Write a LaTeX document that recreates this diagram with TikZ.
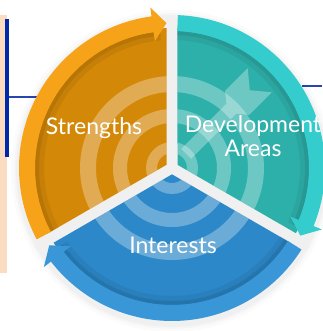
\documentclass[tikz,border=0pt]{standalone}
\usepackage{fontspec}
\setmainfont{Lato}
\definecolor{orgband}{RGB}{246,163,25}
\definecolor{orgfill}{RGB}{212,136,8}
\definecolor{tealband}{RGB}{52,204,204}
\definecolor{tealfill}{RGB}{46,176,170}
\definecolor{blueband}{RGB}{58,151,215}
\definecolor{bluefill}{RGB}{44,136,200}
\definecolor{peach}{RGB}{250,221,192}
\definecolor{navy}{RGB}{0,40,170}
\definecolor{rule}{RGB}{40,70,175}
% dark body of one sector between two angles (gap offset included)
\newcommand\sectorbody[4]{% colour, low angle, high angle, bisector
  \fill[#1] (#4:6.35) -- (#2+2.25:140) arc[start angle=#2+2.25, end angle=#3-2.25, radius=140] -- cycle;}
\newcommand\sectorpath[3]{(#3:6.35) -- (#1+2.25:140) arc[start angle=#1+2.25, end angle=#2-2.25, radius=140] -- cycle}
% outer band ending in a barbed head; tail angle > tip angle (clockwise)
\newcommand\bandarrow[3]{%
  \fill[#1] (#2:137) arc[start angle=#2, end angle=#3+5.5, radius=137]
    -- (#3+5.5:128) -- (#3:145) -- (#3+5.5:162) -- (#3+5.5:153)
    arc[start angle=#3+5.5, end angle=#2, radius=153] -- cycle;}
% soft shade just inside a band
\newcommand\bandshade[2]{%
  \draw[black, opacity=.06, line width=9] (#1:132.5) arc[start angle=#1, end angle=#2, radius=132.5];
  \draw[black, opacity=.08, line width=4] (#1:135) arc[start angle=#1, end angle=#2, radius=135];}
\tikzset{
  label/.style={text=white, font=\fontsize{23}{24}\selectfont, align=center, inner sep=0pt},
  overlay/.style={white, opacity=.3}
}
\begin{document}
\begin{tikzpicture}[x=1pt,y=1pt]
  \useasboundingbox (-172,-163) rectangle (150,168);
  % side decorations
  \fill[peach] (-172,-105) rectangle (-165,153);
  \fill[navy] (-167,11) rectangle (-163,149);
  \draw[rule, line width=1.3] (-163,71) -- (-125,71);
  \draw[rule, line width=1.3] (130,82) -- (150,82);
  % soft shadow
  \foreach \r/\o in {161/.015,158/.02,156/.025} {
    \fill[black, opacity=\o] (0,-3) circle[radius=\r];
  }
  % sector bodies
  \sectorbody{orgfill}{90}{210}{150}
  \sectorbody{tealfill}{-30}{90}{30}
  \sectorbody{bluefill}{210}{330}{270}
  % bullseye rings and dart, kept inside the sectors
  \begin{scope}
    \clip \sectorpath{90}{210}{150} \sectorpath{-30}{90}{30} \sectorpath{210}{330}{270};
    \fill[overlay, even odd rule] (0,0) circle[radius=26] circle[radius=15]
      (0,0) circle[radius=59] circle[radius=45]
      (0,0) circle[radius=92] circle[radius=76];
  \end{scope}
  \begin{scope}
    \clip \sectorpath{-30}{90}{30};
    \fill[overlay, rotate=45] (20,7) -- (84,7) -- (92,17) -- (124,17) -- (110,0)
      -- (124,-17) -- (92,-17) -- (84,-7) -- (20,-7) -- cycle;
  \end{scope}
  % inner shade under the bands
  \bandshade{207.8}{95}
  \bandshade{87.8}{-25}
  \bandshade{327.8}{215}
  % circular arrows
  \bandarrow{orgband}{207.8}{92.2}
  \bandarrow{tealband}{87.8}{-27.8}
  \bandarrow{blueband}{327.8}{212.2}
  % labels
  \node[label] (str) at (-78,40) {Strengths};
  \node[label] (dev) at (81,32) {Development\\Areas};
  \node[label] (int) at (1,-77) {Interests};
\end{tikzpicture}
\end{document}
